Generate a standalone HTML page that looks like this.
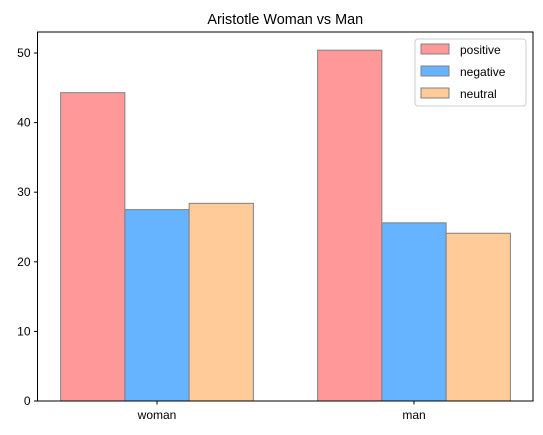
<!DOCTYPE html>
<html><head><meta charset="utf-8"><style>body{margin:0;background:#fff}svg{display:block;font-family:"Liberation Sans","DejaVu Sans",sans-serif}</style></head>
<body>
<svg id="c" width="543" height="435" xmlns="http://www.w3.org/2000/svg"></svg>
<script>
const categories=["woman","man"];
const seriesNames=["positive","negative","neutral"];
const positive=[44.3,50.4];
const negative=[27.5,25.6];
const neutral=[28.4,24.1];
const yTicks=[0,10,20,30,40,50];
const colors=["#ff9999","#66b3ff","#ffcc99"];
const svg=document.getElementById('c');const NS="http://www.w3.org/2000/svg";
const L=37.5,R=533,T=32,B=401;
const xs=v=>157+(v)*257; const ys=v=>B-v*6.96;
function mk(t,a,p){const e=document.createElementNS(NS,t);for(const k in a)e.setAttribute(k,a[k]);(p||svg).appendChild(e);return e;}
const vals=[positive,negative,neutral];
vals.forEach((s,si)=>s.forEach((v,ci)=>{
 const x0=xs(ci+(si-1)*0.25-0.125),x1=xs(ci+(si-1)*0.25+0.125);
 const r=mk('rect',{x:x0,y:ys(v),width:x1-x0,height:ys(0)-ys(v),fill:colors[si],stroke:'#808080','stroke-width':1});
 
 
}));
const ax=mk('rect',{x:L,y:T,width:R-L,height:B-T,fill:'none',stroke:'#000','stroke-width':1});

yTicks.forEach(t=>{const y=ys(t);mk('line',{x1:L-3.5,x2:L,y1:y,y2:y,stroke:'#000'});
 const tx=mk('text',{x:L-7,y:y+4,'text-anchor':'end','font-size':12});tx.textContent=t;
 });
categories.forEach((c,i)=>{const x=xs(i);mk('line',{x1:x,x2:x,y1:B,y2:B+3.5,stroke:'#000'});
 const tx=mk('text',{x:x,y:B+18,'text-anchor':'middle','font-size':12});tx.textContent=c;
 });
const ti=mk('text',{x:(L+R)/2,y:24,'text-anchor':'middle','font-size':14.4});ti.textContent="Aristotle Woman vs Man";

const lg=mk('g',{});
mk('rect',{x:415,y:39,width:111,height:67,rx:3,fill:'#fff','fill-opacity':0.8,stroke:'#ccc'},lg);
seriesNames.forEach((n,i)=>{const y=44+i*22;
 const sw=mk('rect',{x:421,y:y,width:28,height:10,fill:colors[i],stroke:'#808080'},lg);
 
 const t=mk('text',{x:460,y:y+10,'font-size':12},lg);t.textContent=n;
 });
</script>
</body></html>
